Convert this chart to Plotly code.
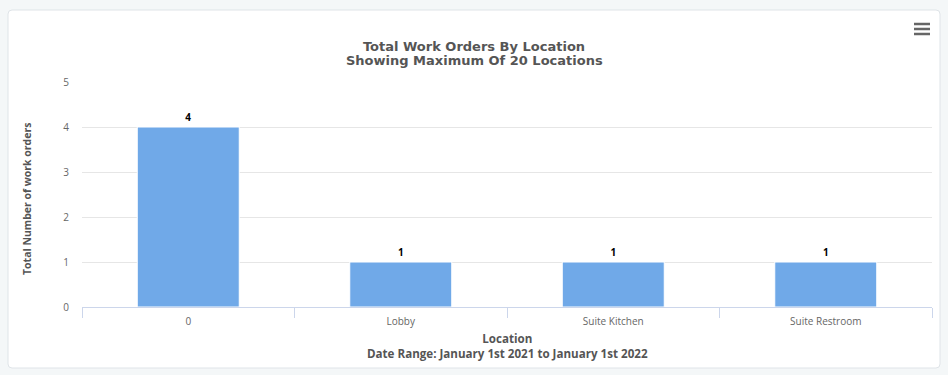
import plotly.graph_objects as go

categories = ["0", "Lobby", "Suite Kitchen", "Suite Restroom"]
work_orders = [4, 1, 1, 1]
y_ticks = [0, 1, 2, 3, 4, 5]
title_line1 = "Total Work Orders By Location"
title_line2 = "Showing Maximum Of 20 Locations"

W, H = 948, 375
L, R, T, B = 82, 16, 82, 68
pw, ph = W - L - R, H - T - B

def px_x(x):
    return (x - L) / pw

def px_y(y):
    return (H - B - y) / ph

FONT = "Open Sans, DejaVu Sans, sans-serif"
TFONT = "DejaVu Sans, Open Sans, sans-serif"
BG = "#f4f7f8"

fig = go.Figure()
fig.add_trace(go.Bar(
    x=categories, y=work_orders,
    marker=dict(color="#70a9e8", line=dict(color="#ffffff", width=1)),
    text=[str(v) for v in work_orders], textposition="outside",
    textfont=dict(family=FONT, size=10, color="#000000"),
    texttemplate="<b>%{text}</b>",
    cliponaxis=False, hoverinfo="x+y",
))

# card background
x0, x1, y0, y1, r = px_x(8), px_x(940), px_y(368), px_y(10), 4
rx, ry = r / pw, r / ph
path = (f"M {x0+rx},{y0} L {x1-rx},{y0} Q {x1},{y0} {x1},{y0+ry} "
        f"L {x1},{y1-ry} Q {x1},{y1} {x1-rx},{y1} L {x0+rx},{y1} "
        f"Q {x0},{y1} {x0},{y1-ry} L {x0},{y0+ry} Q {x0},{y0} {x0+rx},{y0} Z")
shapes = [dict(type="path", path=path, xref="paper", yref="paper",
               fillcolor="#ffffff", line=dict(color="#dfe4e8", width=1), layer="below")]
# menu icon
for yy in (24, 29, 34):
    shapes.append(dict(type="line", xref="paper", yref="paper",
                       x0=px_x(914), x1=px_x(930), y0=px_y(yy), y1=px_y(yy),
                       line=dict(color="#666666", width=2.5)))

fig.update_layout(
    width=W, height=H,
    margin=dict(l=L, r=R, t=T, b=B, autoexpand=False),
    paper_bgcolor=BG, plot_bgcolor="#ffffff",
    bargap=0.52, showlegend=False,
    font=dict(family=FONT, color="#666666"),
    title=dict(text=f"<b>{title_line1}</b>",
               x=0.5, xref="container", y=1 - 46.5 / H, yref="container", yanchor="middle",
               font=dict(family=TFONT, size=13, color="#555555")),
    xaxis=dict(type="category", tickson="boundaries", ticks="outside", ticklen=10,
               tickcolor="#ccd6eb", showline=True, linecolor="#ccd6eb", linewidth=1,
               showgrid=False, tickfont=dict(size=10, color="#666666"),
               ticklabelstandoff=5, fixedrange=True),
    yaxis=dict(range=[0, 5], tickvals=y_ticks, showgrid=True, gridcolor="#e6e6e6",
               zeroline=False, showline=False, tickfont=dict(size=10, color="#666666"),
               ticklabelstandoff=12, fixedrange=True),
    shapes=shapes,
    annotations=[
        dict(text=f"<b>{title_line2}</b>", xref="paper", yref="paper",
             x=px_x(W / 2), y=px_y(60), xanchor="center", yanchor="middle",
             showarrow=False, font=dict(family=TFONT, size=13, color="#555555")),
        dict(text="<b>Location</b><br><b>Date Range: January 1st 2021 to January 1st 2022</b>",
             xref="paper", yref="paper", x=0.5, y=px_y(328.5), xanchor="center", yanchor="top",
             showarrow=False, font=dict(family=FONT, size=11.6, color="#555555")),
        dict(text="<b>Total Number of work orders</b>", textangle=-90,
             xref="paper", yref="paper", x=px_x(27), y=px_y(199),
             xanchor="center", yanchor="middle", showarrow=False,
             font=dict(family=FONT, size=10.5, color="#555555")),
    ],
)

fig.write_html(
    "out.html",
    config={"displayModeBar": False},
    post_script=f"document.body.style.margin='0';document.body.style.background='{BG}';",
)
